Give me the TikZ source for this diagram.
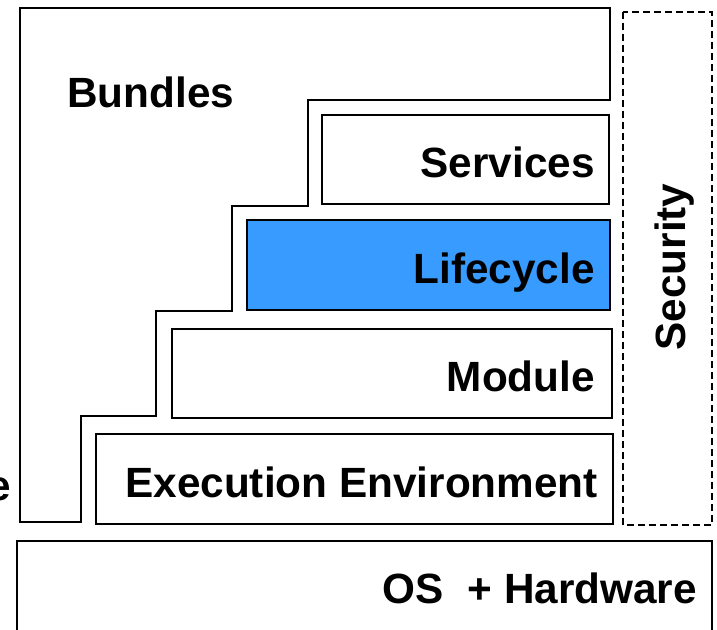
\documentclass[tikz,border=0pt]{standalone}
\usepackage{fontspec}
\setmainfont{Liberation Sans}
\usepackage{tikz}
\usetikzlibrary{positioning}
\definecolor{lifeblue}{RGB}{55,155,255}

\begin{document}
\begin{tikzpicture}[
            x = 1pt, y = -1pt, % pixel grid, y downwards
            layer/.style = {draw, line width = 1.9pt, fill = white},
            lbl/.style = {font = \bfseries\fontsize{42.3}{45}\selectfont, inner sep = 0pt}
        ]

        \useasboundingbox (0,0) rectangle (717,629);

        % bundles, stepped outline
        \draw[layer] (20,8) -- (610,8) -- (610,100) -- (308,100) -- (308,206)
            -- (232,206) -- (232,311) -- (156,311) -- (156,416) -- (81,416)
            -- (81,522) -- (20,522) -- cycle;
        \node[lbl, anchor = base west] (bundles) at (67,107) {Bundles};

        % layers
        \draw[layer] (322,115) rectangle (609,204);
        \node[lbl, anchor = base east] (services) at (595,177) {Services};

        \draw[layer, fill = lifeblue] (247,220) rectangle (610,310);
        \node[lbl, anchor = base east] (lifecycle) at (595,283) {Lifecycle};

        \draw[layer] (172,329) rectangle (612,418);
        \node[lbl, anchor = base east] (module) at (595,391) {Module};

        \draw[layer] (96,434) rectangle (613,524);
        \node[lbl, anchor = base east] (exec) at (598,497) {Execution Environment};

        % cut-off text on the left
        \node[lbl, anchor = base east] (cut) at (11,500) {e};

        % security
        \draw[line width = 1.6pt, dash pattern = on 7pt off 4pt] (623,12) rectangle (712,525);
        \node[lbl, anchor = base, rotate = 90] (security) at (685,267) {Security};

        % os + hardware
        \draw[layer] (17,541) rectangle (712,645);
        \node[lbl, anchor = base east] (os) at (697,603) {OS\ \ + Hardware};

\end{tikzpicture}
\end{document}
